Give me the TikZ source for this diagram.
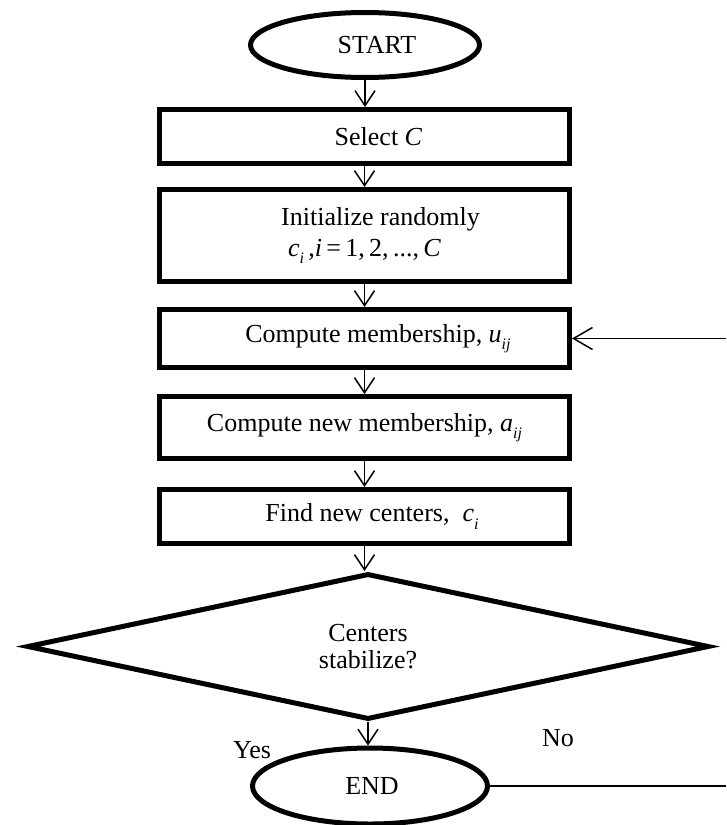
\documentclass[tikz,border=0pt]{standalone}
\usepackage{fontspec}
\setmainfont{Liberation Serif}
\usetikzlibrary{shapes.geometric,arrows.meta}
\newcommand{\mysub}[1]{\raisebox{-0.28em}{\fontsize{16}{16}\selectfont\itshape #1}}
\begin{document}
\begin{tikzpicture}[x=1pt,y=-1pt,
  every node/.style={font=\fontsize{26}{31}\selectfont},
  thickline/.style={draw, line width=5pt},
  procbox/.style={thickline, rectangle, minimum width=410pt, inner sep=0pt, align=center},
  term/.style={thickline, ellipse, inner sep=0pt},
  decision/.style={thickline, diamond, inner sep=0pt, minimum width=682pt, minimum height=146pt, align=center},
  flow/.style={line width=1.5pt, -{Straight Barb[length=15pt,width=20pt]}},
  back/.style={line width=1.5pt, -{Straight Barb[length=19pt,width=22pt]}},
  plain/.style={line width=1.5pt},
  lbl/.style={inner sep=0pt}
  ]
\useasboundingbox (0,0) rectangle (726,825);

\node[term, minimum width=229pt, minimum height=65pt] (start) at (365,45) {\hspace*{24pt}START};
\node[procbox, minimum height=54pt] (box1) at (364.5,136.5) {\hspace*{28pt}Select \textit{C}};
\node[procbox, minimum height=92pt] (box2) at (364.5,235.5)
  {\hspace*{32pt}Initialize randomly\\
   \textit{c}\mysub{i}\,,\textit{i}\,=\,1,\,2,\,...,\,\textit{C}};
\node[procbox, minimum height=58pt] (box3) at (364.5,338.5) {\hspace*{27pt}Compute membership, \textit{u}\mysub{ij}};
\node[procbox, minimum height=62pt] (box4) at (364.5,427.5) {Compute new membership, \textit{a}\mysub{ij}};
\node[procbox, minimum height=54pt] (box5) at (364.5,516.5) {\hspace*{15pt}Find new centers,\ \ \textit{c}\mysub{i}};
\node[decision] (dec) at (368,646.5) {Centers\\[-4pt]stabilize?};
\node[term, minimum width=235pt, minimum height=76pt] (stop) at (370,786) {\hspace*{4pt}END};

\coordinate (rin) at (726,338.5);
\coordinate (rout) at (726,786);

\draw[flow] (start.south) -- (start.south |- box1.north);
\draw[flow] (box1.south) -- (box2.north);
\draw[flow] (box2.south) -- (box3.north);
\draw[flow] (box3.south) -- (box4.north);
\draw[flow] (box4.south) -- (box5.north);
\draw[flow] (box5.south) -- (box5.south |- dec.north);
\draw[flow] (dec.south) -- (dec.south |- stop.north);
\draw[back] (rin) -- (box3.east);
\draw[plain] (stop.east) -- (rout);

\node[lbl] (yes) at (252,750) {Yes};
\node[lbl] (no) at (558,738) {No};
\end{tikzpicture}
\end{document}
